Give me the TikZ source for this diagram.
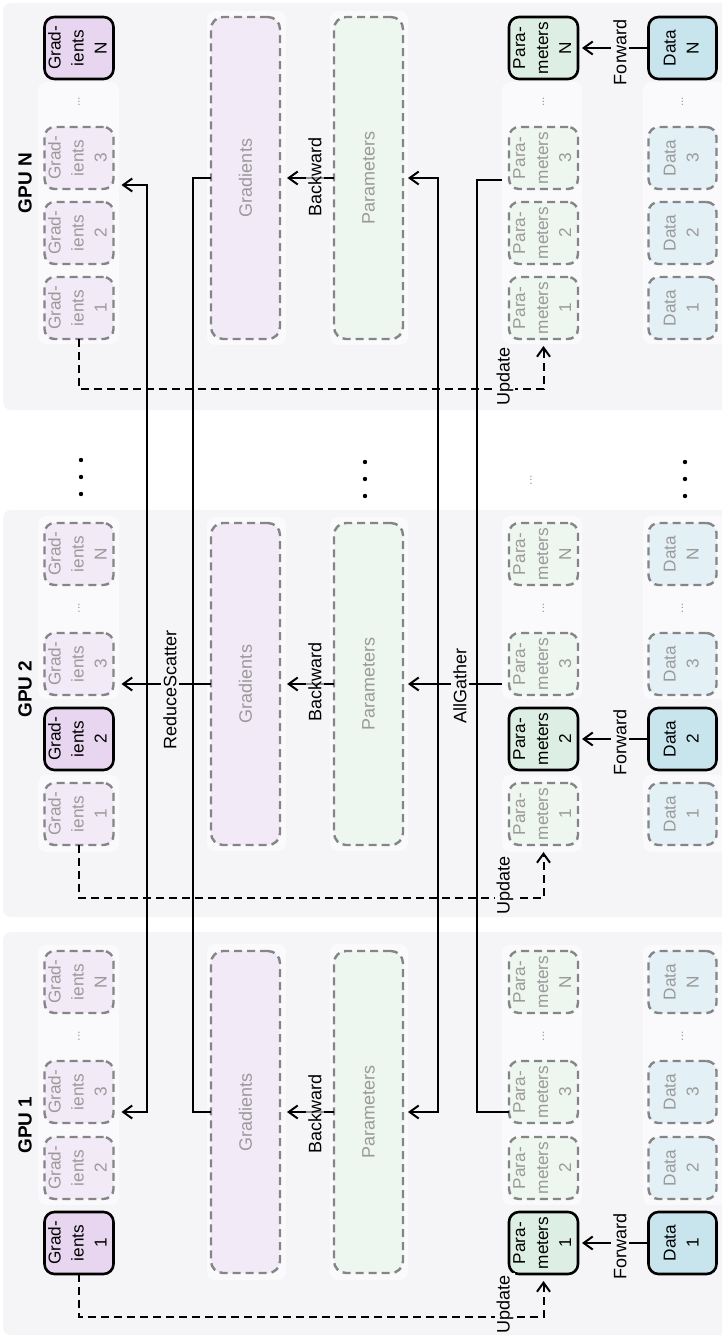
\documentclass[tikz,border=0pt]{standalone}
\usepackage{fontspec}
\setmainfont{Liberation Sans}
\usepackage{graphicx}
\usetikzlibrary{arrows.meta}
\definecolor{panelc}{HTML}{F5F5F7}
\definecolor{grpc}{HTML}{FAFAFC}
\definecolor{gradS}{HTML}{E8D6F0}
\definecolor{gradD}{HTML}{F3EAF8}
\definecolor{parS}{HTML}{DDEFE4}
\definecolor{parD}{HTML}{EEF6F0}
\definecolor{dataS}{HTML}{C8E4EC}
\definecolor{dataD}{HTML}{E3F1F7}
\definecolor{dashgray}{HTML}{858585}
\definecolor{txtgray}{HTML}{9A9A9A}
\newcommand{\vtxt}[1]{\rotatebox{90}{\fontsize{8.6}{11.5}\selectfont\begin{tabular}{@{}c@{}}#1\end{tabular}}}
\tikzset{
  cell/.style={rounded corners=5pt, minimum width=34pt, minimum height=31pt, inner sep=0pt, outer sep=0pt},
  solidc/.style={cell, draw=black, line width=1.3pt},
  dashc/.style={cell, draw=dashgray, line width=1.2pt, dash pattern=on 4pt off 2.5pt, text=txtgray},
  bigbox/.style={rounded corners=6pt, minimum width=34.5pt, minimum height=161pt, inner sep=0pt, outer sep=0pt, draw=dashgray, line width=1.2pt, dash pattern=on 4pt off 2.5pt, text=txtgray},
  panel/.style={fill=panelc, rounded corners=4pt},
  grp/.style={fill=grpc, rounded corners=4pt},
  conn/.style={line width=1pt, draw=black},
  tip/.style={-{Straight Barb[length=4.5pt,width=6.5pt]}},
  dconn/.style={line width=1pt, draw=black, dash pattern=on 4pt off 2.5pt},
  lbl/.style={fill=panelc, inner sep=1pt},
  sdots/.style={text=txtgray, inner sep=0pt, font=\fontsize{6}{6}\selectfont},
  bdot/.style={circle, fill=black, inner sep=0pt, minimum size=2.2pt},
  gpul/.style={font=\fontsize{9.5}{11}\selectfont\bfseries},
}
\begin{document}
\begin{tikzpicture}[x=0.5pt,y=-0.5pt, font=\fontsize{9}{11.5}\selectfont]
\useasboundingbox (0,0) rectangle (722,1338);
\fill[white] (0,0) rectangle (722,1338);
% panels
\fill[panel] (3,3) rectangle (730,410);
\fill[panel] (3,510) rectangle (730,917);
\fill[panel] (3,932) rectangle (730,1335);
% groups panel N
\fill[grp] (38,82) rectangle (119,344);
\fill[grp] (502,82) rectangle (582,344);
\fill[grp] (643,82) rectangle (728,344);
\fill[grp] (207,11) rectangle (286,345);
\fill[grp] (330,11) rectangle (408,345);
% groups panel 2
\fill[grp] (38,516) rectangle (119,699);
\fill[grp] (38,775) rectangle (119,852);
\fill[grp] (502,516) rectangle (582,699);
\fill[grp] (502,775) rectangle (582,852);
\fill[grp] (643,516) rectangle (728,699);
\fill[grp] (643,775) rectangle (728,852);
\fill[grp] (207,517) rectangle (286,851);
\fill[grp] (330,517) rectangle (408,851);
% groups panel 1
\fill[grp] (38,945) rectangle (119,1205);
\fill[grp] (502,945) rectangle (582,1205);
\fill[grp] (643,945) rectangle (728,1205);
\fill[grp] (207,944) rectangle (286,1280);
\fill[grp] (330,944) rectangle (408,1280);

% GPU labels
\node[gpul] (lN) at (25,183) {\rotatebox{90}{GPU N}};
\node[gpul] (l2) at (25,689) {\rotatebox{90}{GPU 2}};
\node[gpul] (l1) at (25,1125) {\rotatebox{90}{GPU 1}};

% ---------- Panel N ----------
\node[solidc, fill=gradS] (gNN) at (79,48) {\vtxt{Grad-\\ients\\N}};
\node[sdots] (gNd) at (79,102) {\rotatebox{90}{...}};
\node[dashc, fill=gradD] (gN3) at (79,158) {\vtxt{Grad-\\ients\\3}};
\node[dashc, fill=gradD] (gN2) at (79,233) {\vtxt{Grad-\\ients\\2}};
\node[dashc, fill=gradD] (gN1) at (79,308) {\vtxt{Grad-\\ients\\1}};
\node[bigbox, fill=gradD] (gbN) at (245.5,178) {\rotatebox{90}{Gradients}};
\node[bigbox, fill=parD] (pbN) at (368.5,178) {\rotatebox{90}{Parameters}};
\node[solidc, fill=parS] (pNN) at (543.5,48) {\vtxt{Para-\\meters\\N}};
\node[sdots] (pNd) at (543.5,102) {\rotatebox{90}{...}};
\node[dashc, fill=parD] (pN3) at (543.5,158) {\vtxt{Para-\\meters\\3}};
\node[dashc, fill=parD] (pN2) at (543.5,233) {\vtxt{Para-\\meters\\2}};
\node[dashc, fill=parD] (pN1) at (543.5,308) {\vtxt{Para-\\meters\\1}};
\node[solidc, fill=dataS] (dNN) at (682.5,48) {\vtxt{Data\\N}};
\node[sdots] (dNd) at (682.5,102) {\rotatebox{90}{...}};
\node[dashc, fill=dataD] (dN3) at (682.5,158) {\vtxt{Data\\3}};
\node[dashc, fill=dataD] (dN2) at (682.5,233) {\vtxt{Data\\2}};
\node[dashc, fill=dataD] (dN1) at (682.5,308) {\vtxt{Data\\1}};

% ---------- Panel 2 ----------
\node[dashc, fill=gradD] (g2N) at (79,554) {\vtxt{Grad-\\ients\\N}};
\node[sdots] (g2d) at (79,608) {\rotatebox{90}{...}};
\node[dashc, fill=gradD] (g23) at (79,664) {\vtxt{Grad-\\ients\\3}};
\node[solidc, fill=gradS] (g22) at (79,739) {\vtxt{Grad-\\ients\\2}};
\node[dashc, fill=gradD] (g21) at (79,814) {\vtxt{Grad-\\ients\\1}};
\node[bigbox, fill=gradD] (gb2) at (245.5,684) {\rotatebox{90}{Gradients}};
\node[bigbox, fill=parD] (pb2) at (368.5,684) {\rotatebox{90}{Parameters}};
\node[dashc, fill=parD] (p2N) at (543.5,554) {\vtxt{Para-\\meters\\N}};
\node[sdots] (p2d) at (543.5,608) {\rotatebox{90}{...}};
\node[dashc, fill=parD] (p23) at (543.5,664) {\vtxt{Para-\\meters\\3}};
\node[solidc, fill=parS] (p22) at (543.5,739) {\vtxt{Para-\\meters\\2}};
\node[dashc, fill=parD] (p21) at (543.5,814) {\vtxt{Para-\\meters\\1}};
\node[dashc, fill=dataD] (d2N) at (682.5,554) {\vtxt{Data\\N}};
\node[sdots] (d2d) at (682.5,608) {\rotatebox{90}{...}};
\node[dashc, fill=dataD] (d23) at (682.5,664) {\vtxt{Data\\3}};
\node[solidc, fill=dataS] (d22) at (682.5,739) {\vtxt{Data\\2}};
\node[dashc, fill=dataD] (d21) at (682.5,814) {\vtxt{Data\\1}};

% ---------- Panel 1 ----------
\node[dashc, fill=gradD] (g1N) at (79,982) {\vtxt{Grad-\\ients\\N}};
\node[sdots] (g1d) at (79,1036) {\rotatebox{90}{...}};
\node[dashc, fill=gradD] (g13) at (79,1092) {\vtxt{Grad-\\ients\\3}};
\node[dashc, fill=gradD] (g12) at (79,1168) {\vtxt{Grad-\\ients\\2}};
\node[solidc, fill=gradS] (g11) at (79,1243) {\vtxt{Grad-\\ients\\1}};
\node[bigbox, fill=gradD] (gb1) at (245.5,1112) {\rotatebox{90}{Gradients}};
\node[bigbox, fill=parD] (pb1) at (368.5,1112) {\rotatebox{90}{Parameters}};
\node[dashc, fill=parD] (p1N) at (543.5,982) {\vtxt{Para-\\meters\\N}};
\node[sdots] (p1d) at (543.5,1036) {\rotatebox{90}{...}};
\node[dashc, fill=parD] (p13) at (543.5,1092) {\vtxt{Para-\\meters\\3}};
\node[dashc, fill=parD] (p12) at (543.5,1168) {\vtxt{Para-\\meters\\2}};
\node[solidc, fill=parS] (p11) at (543.5,1243) {\vtxt{Para-\\meters\\1}};
\node[dashc, fill=dataD] (d1N) at (682.5,982) {\vtxt{Data\\N}};
\node[sdots] (d1d) at (682.5,1036) {\rotatebox{90}{...}};
\node[dashc, fill=dataD] (d13) at (682.5,1092) {\vtxt{Data\\3}};
\node[dashc, fill=dataD] (d12) at (682.5,1168) {\vtxt{Data\\2}};
\node[solidc, fill=dataS] (d11) at (682.5,1243) {\vtxt{Data\\1}};

% ---------- between-panel dots ----------
\foreach \xx/\yy/\nm in {81/460/a, 365/462/b, 685/462/c} {
  \node[bdot] (vd\nm1) at (\xx,\yy) {};
  \node[bdot] (vd\nm2) at (\xx,\yy+17) {};
  \node[bdot] (vd\nm3) at (\xx,\yy+34) {};
}
\node[sdots] (vdp) at (531,480) {\rotatebox{90}{...}};

% ---------- coordinates ----------
\coordinate (rsAt) at (147,185);
\coordinate (rsAb) at (147,1112);
\coordinate (rsBt) at (193,178);
\coordinate (rsBb) at (193,1112);
\coordinate (agAt) at (438,178);
\coordinate (agAb) at (438,1112);
\coordinate (agBt) at (477,180);
\coordinate (agBb) at (477,1112);
\coordinate (uN) at (0,389);
\coordinate (u2) at (0,898);
\coordinate (u1) at (0,1317);

% ---------- ReduceScatter ----------
\draw[conn] (gbN.west) -- (rsBt) -- (rsBb) -- (gb1.west);
\draw[conn, {Straight Barb[length=4.5pt,width=6.5pt]}-{Straight Barb[length=4.5pt,width=6.5pt]}, shorten <=4pt, shorten >=4pt] (gN3.east |- rsAt) -- (rsAt) -- (rsAb) -- (g13.east |- rsAb);
\draw[conn, tip, shorten >=4pt] (gb2.west) -- (g23.east |- gb2.west);
\node[lbl] (rsl) at (170,690) {\rotatebox{90}{ReduceScatter}};

% ---------- AllGather ----------
\draw[conn, shorten <=3.5pt] (pN3.west |- agBt) -- (agBt) -- (agBb) -- (p13.west |- agBb);
\draw[conn, {Straight Barb[length=4.5pt,width=6.5pt]}-{Straight Barb[length=4.5pt,width=6.5pt]}, shorten <=2.5pt, shorten >=2.5pt] (pbN.east |- agAt) -- (agAt) -- (agAb) -- (pb1.east |- agAb);
\draw[conn, tip, shorten <=3.5pt, shorten >=2.5pt] (p23.west |- pb2.east) -- (pb2.east);
\node[lbl] (agl) at (460,686) {\rotatebox{90}{AllGather}};

% ---------- Backward ----------
\draw[conn, tip, shorten >=3.5pt] (pbN.west) -- (gbN.east);
\draw[conn, tip, shorten >=3.5pt] (pb2.west) -- (gb2.east);
\draw[conn, tip, shorten >=3.5pt] (pb1.west) -- (gb1.east);
\node[lbl, fill opacity=0.6, text opacity=1] (bwN) at (315,177) {\rotatebox{90}{Backward}};
\node[lbl, fill opacity=0.6, text opacity=1] (bw2) at (315,682) {\rotatebox{90}{Backward}};
\node[lbl, fill opacity=0.6, text opacity=1] (bw1) at (315,1114) {\rotatebox{90}{Backward}};

% ---------- Forward ----------
\draw[conn, tip, shorten >=2pt] (dNN.west) -- (pNN.east);
\draw[conn, tip, shorten >=2pt] (d22.west) -- (p22.east);
\draw[conn, tip, shorten >=2pt] (d11.west) -- (p11.east);
\node[lbl] (fwN) at (620,52) {\rotatebox{90}{Forward}};
\node[lbl] (fw2) at (620,742) {\rotatebox{90}{Forward}};
\node[lbl] (fw1) at (620,1246) {\rotatebox{90}{Forward}};

% ---------- Update ----------
\draw[dconn, tip, shorten >=3.5pt] (gN1.south) -- (gN1.south |- uN) -- (pN1.south |- uN) -- (pN1.south);
\draw[dconn, tip, shorten >=3.5pt] (g21.south) -- (g21.south |- u2) -- (p21.south |- u2) -- (p21.south);
\draw[dconn, tip, shorten >=3.5pt] (g11.south) -- (g11.south |- u1) -- (p11.south |- u1) -- (p11.south);
\node[lbl] (upN) at (505,376) {\rotatebox{90}{Update}};
\node[lbl] (up2) at (505,885) {\rotatebox{90}{Update}};
\node[lbl] (up1) at (505,1304) {\rotatebox{90}{Update}};
\end{tikzpicture}
\end{document}
